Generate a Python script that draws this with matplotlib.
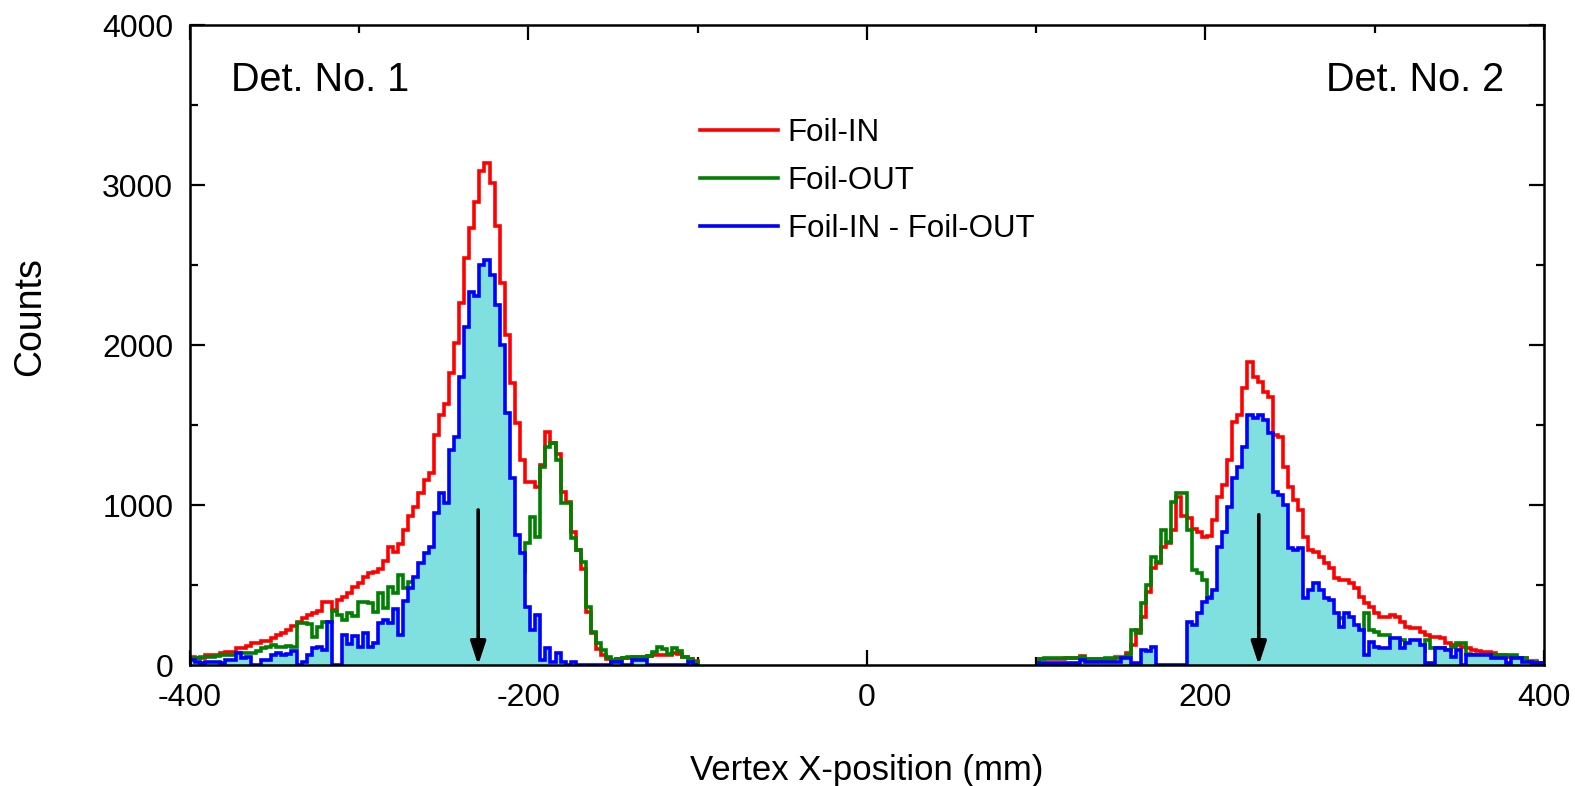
import numpy as np
import matplotlib
matplotlib.use("Agg")
import matplotlib.pyplot as plt
from matplotlib.lines import Line2D

plt.rcParams['font.family'] = ['Liberation Sans', 'DejaVu Sans']
plt.rcParams['axes.unicode_minus'] = False

# histogram binning (mm)
BIN_W = 3.0
DET1_START = -400.0
DET2_START = 101.8

# Det. No. 1 counts per bin
det1_in = [48, 45, 42, 63, 63, 63, 77, 83, 83, 104, 104, 119, 136, 136, 152, 152, 167, 188, 203, 219,
           244, 271, 292, 313, 325, 340, 396, 396, 344, 407, 428, 453, 486, 515, 549, 574, 584, 600, 650, 740,
           705, 757, 845, 930, 991, 1074, 1158, 1204, 1439, 1564, 1633, 1825, 2013, 2267, 2545, 2733, 2899, 3087, 3139, 3014,
           2743, 2388, 2065, 1763, 1512, 1283, 1147, 1147, 1116, 1250, 1460, 1390, 1320, 1080, 1020, 830, 720, 600, 330, 200,
           100, 65, 40, 25, 40, 42, 45, 50, 52, 52, 55, 63, 65, 60, 63, 75, 70, 50, 40, 25]
det1_out = [42, 45, 52, 52, 52, 55, 60, 63, 63, 73, 73, 77, 77, 90, 104, 110, 125, 115, 115, 119,
            115, 265, 265, 257, 177, 240, 271, 271, 340, 313, 282, 323, 307, 396, 396, 386, 334, 448, 355, 490,
            448, 563, 480, 521, 530, 460, 480, 475, 490, 490, 560, 480, 580, 470, 430, 400, 590, 580, 600, 570,
            490, 390, 490, 595, 700, 580, 761, 928, 803, 1241, 1366, 1387, 1283, 1012, 1012, 793, 720, 647, 365, 209,
            136, 94, 52, 30, 40, 42, 50, 50, 52, 52, 55, 80, 115, 100, 70, 104, 90, 50, 40, 20]
det1_diff = [31, 20, 10, 21, 21, 21, 10, 31, 31, 73, 42, 48, 0, 0, 31, 31, 60, 73, 63, 70,
             90, 0, 20, 60, 104, 115, 94, 271, 0, 0, 188, 130, 180, 115, 200, 115, 136, 260, 280, 265,
             350, 188, 400, 480, 550, 640, 700, 740, 949, 1074, 1012, 1345, 1429, 1804, 2117, 2336, 2305, 2503, 2534, 2440,
             2253, 2003, 1575, 1168, 814, 699, 365, 219, 313, 31, 104, 21, 73, 21, 0, 21, 0, 0, 0, 0,
             0, 0, 0, 20, 20, 0, 0, 30, 30, 30, 0, 0, 0, 0, 0, 0, 0, 0, 20, 0]

# Det. No. 2 counts per bin
det2_in = [35, 38, 40, 40, 38, 42, 42, 45, 56, 40, 35, 35, 35, 38, 35, 52, 50, 73, 125, 219,
           302, 459, 605, 636, 740, 761, 845, 1050, 930, 918, 850, 830, 800, 810, 907, 1053, 1126, 1283, 1523, 1564,
           1731, 1898, 1800, 1770, 1710, 1679, 1440, 1429, 1241, 1116, 1032, 970, 803, 720, 709, 678, 636, 605, 542, 532,
           532, 511, 480, 428, 386, 365, 323, 302, 302, 313, 302, 271, 240, 229, 229, 209, 188, 177, 177, 167,
           136, 125, 125, 115, 104, 94, 90, 83, 83, 73, 63, 63, 52, 52, 42, 42, 27, 27, 15]
det2_out = [40, 42, 42, 45, 42, 45, 45, 42, 52, 35, 35, 35, 35, 42, 42, 42, 35, 63, 219, 198,
            386, 500, 678, 646, 845, 772, 1022, 1074, 1074, 845, 594, 574, 532, 428, 440, 310, 292, 292, 355, 323,
            365, 334, 256, 206, 177, 229, 355, 365, 240, 386, 312, 240, 386, 251, 198, 209, 219, 198, 219, 292,
            209, 209, 230, 209, 323, 219, 209, 188, 188, 146, 135, 156, 104, 73, 73, 84, 156, 104, 104, 104,
            94, 110, 136, 136, 69, 63, 63, 63, 63, 60, 63, 63, 60, 63, 42, 42, 21, 21, 15]
det2_diff = [10, 10, 10, 10, 10, 10, 10, 10, 31, 21, 21, 21, 21, 21, 21, 21, 42, 42, 10, 10,
             94, 90, 115, 0, 0, 0, 0, 0, 0, 271, 250, 323, 396, 417, 469, 740, 834, 991, 1168, 1241,
             1366, 1564, 1544, 1564, 1533, 1450, 1085, 1064, 1001, 730, 720, 730, 417, 469, 511, 469, 417, 407, 323, 240,
             323, 302, 250, 219, 63, 146, 115, 104, 104, 167, 167, 104, 136, 156, 156, 125, 10, 10, 104, 104,
             94, 52, 94, 0, 63, 63, 63, 63, 63, 42, 42, 42, 10, 42, 42, 21, 21, 10, 10]

# peak-position arrows
arrow_x = [-229.7, 231.5]
arrow_top = [970, 940]

labels = ['Foil-IN', 'Foil-OUT', 'Foil-IN - Foil-OUT']
colors = ['#ff0000', '#008000', '#0000ff']
fill_color = '#80e0e0'
LW = 2.6

fig = plt.figure(figsize=(15.75, 7.86), dpi=100)
ax = fig.add_axes([0.1206, 0.1539, 0.8597, 0.8137])

for start, vin, vout, vdiff in [(DET1_START, det1_in, det1_out, det1_diff),
                                (DET2_START, det2_in, det2_out, det2_diff)]:
    edges = start + BIN_W * np.arange(len(vin) + 1)
    ax.stairs(vin, edges, color=colors[0], lw=LW, zorder=2)
    ax.stairs(vout, edges, color=colors[1], lw=LW, zorder=3)
    ax.stairs(vdiff, edges, fill=True, color=fill_color, lw=0, zorder=4)
    ax.stairs(vdiff, edges, color=colors[2], lw=LW, zorder=5)

for xa, ya in zip(arrow_x, arrow_top):
    ax.annotate('', xy=(xa, 0), xytext=(xa, ya),
                arrowprops=dict(arrowstyle='-|>,head_length=1.0,head_width=0.33',
                                color='black', lw=2.6, mutation_scale=14,
                                shrinkA=0, shrinkB=0), zorder=6)

ax.set_xlim(-400, 400)
ax.set_ylim(0, 4000)
ax.set_xticks([-400, -200, 0, 200, 400])
ax.set_yticks([0, 1000, 2000, 3000, 4000])
ax.set_xticks(np.arange(-300, 400, 200), minor=True)
ax.set_yticks(np.arange(500, 4000, 1000), minor=True)
ax.tick_params(which='both', direction='in', top=True, right=True, width=1.6, labelsize=23)
ax.tick_params(which='major', length=11)
ax.tick_params(which='minor', length=6)
ax.tick_params(axis='x', pad=13)
ax.tick_params(axis='y', pad=12)
for sp in ax.spines.values():
    sp.set_linewidth(1.8)
    sp.set_zorder(10)

ax.set_xlabel('Vertex X-position (mm)', fontsize=25)
ax.set_ylabel('Counts', fontsize=27)
ax.xaxis.set_label_coords(0.5, -0.139)
ax.yaxis.set_label_coords(-0.105, 0.545)

ax.text(0.0303, 0.915, 'Det. No. 1', transform=ax.transAxes, fontsize=28.5, ha='left', va='center')
ax.text(0.9705, 0.915, 'Det. No. 2', transform=ax.transAxes, fontsize=28.5, ha='right', va='center')

handles = [Line2D([], [], color=c, lw=LW) for c in colors]
ax.legend(handles, labels, loc='upper left', bbox_to_anchor=(0.3767, 0.8554),
          frameon=False, fontsize=22.5, handlelength=2.5, handletextpad=0.3,
          labelspacing=0.58, borderpad=0, borderaxespad=0)

fig.savefig('out.png', dpi=100)
